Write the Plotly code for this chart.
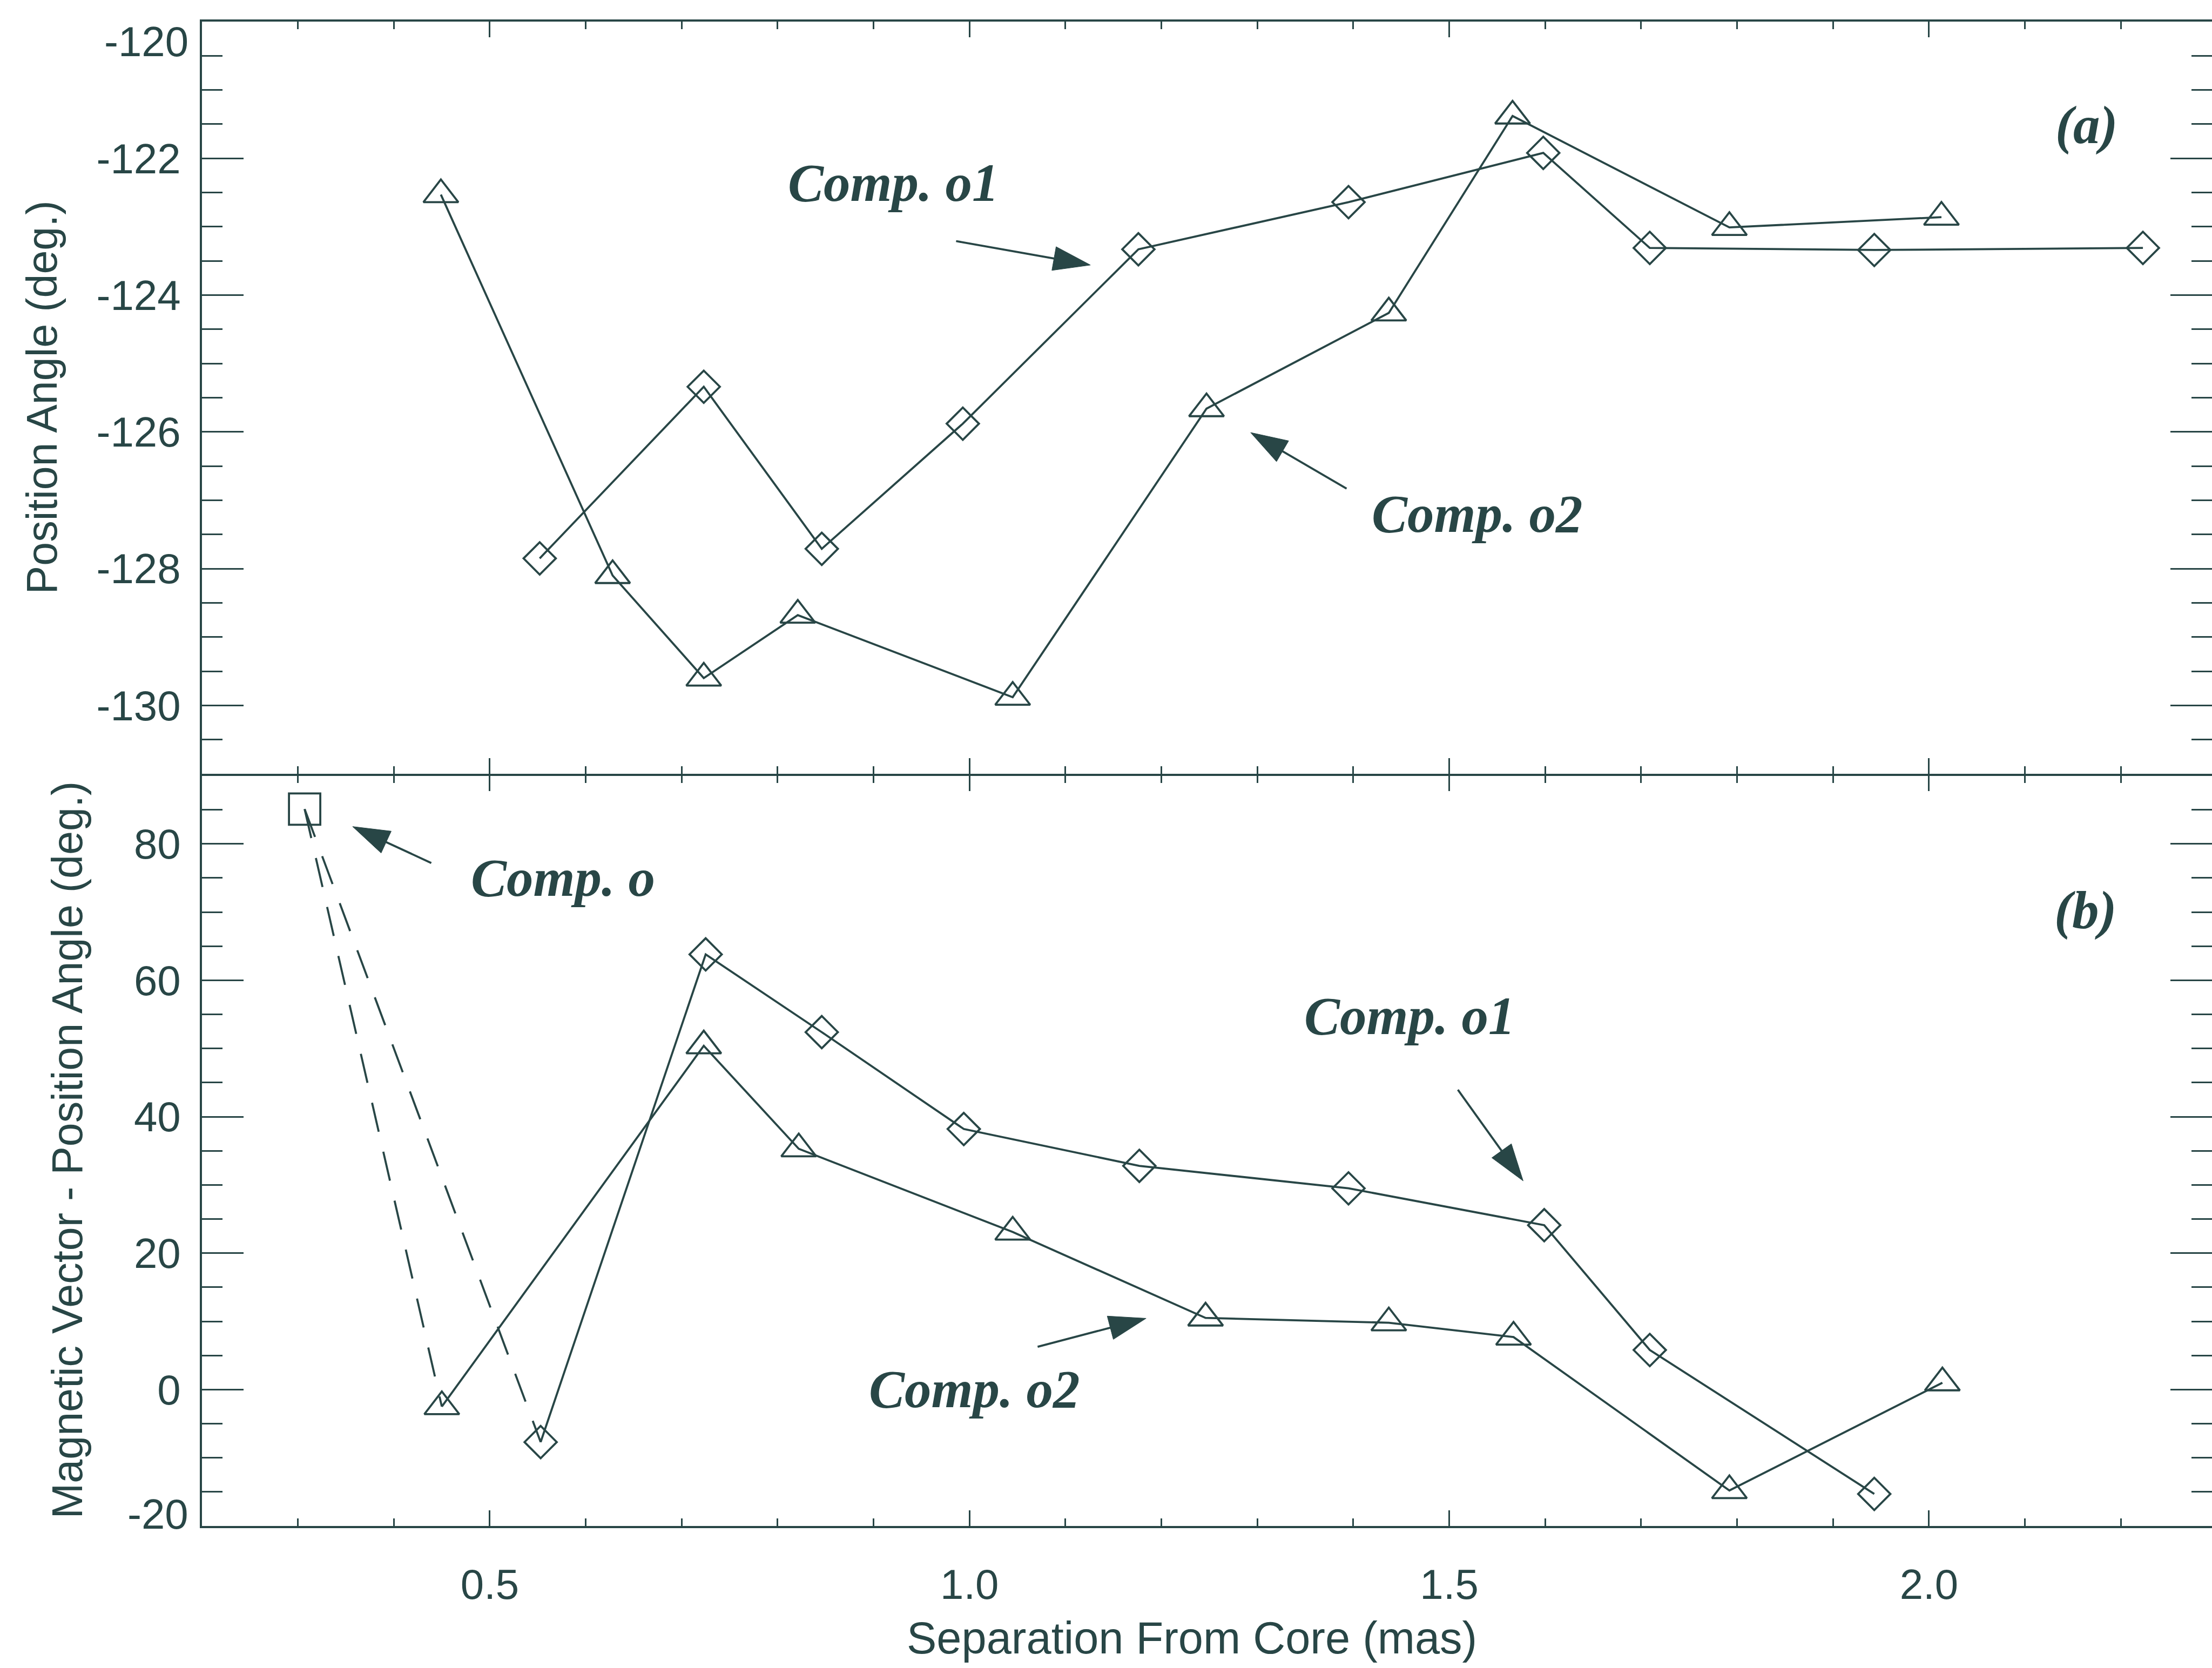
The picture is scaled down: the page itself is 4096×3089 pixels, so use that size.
import plotly.graph_objects as go
from plotly.subplots import make_subplots

INK = "#284646"
SANS = "Liberation Sans, Arial, Helvetica, sans-serif"
SERIF = "Liberation Serif, Times New Roman, serif"
LW = 3.8

# ---- panel (a): position angle versus separation ----
o1_pa_x = [0.552, 0.723, 0.846, 0.993, 1.176, 1.395, 1.598, 1.709, 1.943, 2.223]
o1_pa_y = [-127.85, -125.34, -127.71, -125.88, -123.33, -122.64, -121.92, -123.31, -123.34, -123.31]
o2_pa_x = [0.449, 0.628, 0.723, 0.821, 1.045, 1.247, 1.437, 1.566, 1.792, 2.013]
o2_pa_y = [-122.53, -128.10, -129.60, -128.68, -129.88, -125.66, -124.26, -121.38, -123.01, -122.86]

# ---- panel (b): magnetic vector minus position angle ----
o_mv_x = [0.307]
o_mv_y = [85.1]
o1_mv_x = [0.553, 0.725, 0.846, 0.994, 1.177, 1.395, 1.599, 1.709, 1.943]
o1_mv_y = [-7.7, 63.8, 52.4, 38.2, 32.8, 29.5, 24.1, 5.8, -15.3]
o2_mv_x = [0.450, 0.723, 0.822, 1.045, 1.246, 1.437, 1.567, 1.792, 2.014]
o2_mv_y = [-2.5, 50.4, 35.3, 23.1, 10.5, 9.8, 7.7, -14.8, 1.0]

# axis ranges and ticks
x_range = [0.2, 2.295]
x_ticks = [0.5, 1.0, 1.5, 2.0]
x_ticktext = ["0.5", "1.0", "1.5", "2.0"]
pa_range = [-131, -120]
pa_ticks = [-130, -128, -126, -124, -122, -120]
pa_ticktext = ["-130", "-128", "-126", "-124", "-122", ""]
mv_range = [-20, 90]
mv_ticks = [-20, 0, 20, 40, 60, 80]
mv_ticktext = ["", "0", "20", "40", "60", "80"]

# labels: (text, x, y)
labels_a = [("Comp. o1", 0.921, -122.36), ("Comp. o2", 1.529, -127.20), ("(a)", 2.164, -121.52)]
labels_b = [("Comp. o", 0.576, 75.03), ("Comp. o2", 1.005, 0.07),
            ("Comp. o1", 1.459, 54.74), ("(b)", 2.163, 70.22)]

# pointer arrows: ([tail_x, head_x], [tail_y, head_y])
arrows_a = [([0.986, 1.126], [-123.21, -123.56]),
            ([1.393, 1.293], [-126.83, -126.01])]
arrows_b = [([0.439, 0.357], [77.2, 82.54]),
            ([1.071, 1.184], [6.28, 10.44]),
            ([1.509, 1.577], [43.95, 30.6])]

fig = make_subplots(rows=2, cols=1, shared_xaxes=True, vertical_spacing=0)


def series(x, y, symbol, size, row):
    fig.add_trace(go.Scatter(
        x=x, y=y, mode="lines+markers",
        line=dict(color=INK, width=LW),
        marker=dict(symbol=symbol, size=size, color=INK, opacity=1,
                    line=dict(color=INK, width=LW)),
        showlegend=False, hoverinfo="skip", cliponaxis=False), row=row, col=1)


def arrow(xs, ys, row):
    fig.add_trace(go.Scatter(
        x=xs, y=ys, mode="lines+markers",
        line=dict(color=INK, width=LW),
        marker=dict(symbol="arrow", size=[0, 72], color=INK, opacity=1,
                    angleref="previous", line=dict(width=1, color=INK)),
        showlegend=False, hoverinfo="skip", cliponaxis=False), row=row, col=1)


# dashed links from component o to the first points of o1 and o2
for tx, ty in ((o2_mv_x[0], o2_mv_y[0]), (o1_mv_x[0], o1_mv_y[0])):
    fig.add_trace(go.Scatter(
        x=[o_mv_x[0], tx], y=[o_mv_y[0], ty], mode="lines",
        line=dict(color=INK, width=LW, dash="55px,38px"),
        showlegend=False, hoverinfo="skip"), row=2, col=1)

series(o1_pa_x, o1_pa_y, "diamond-open", 46, 1)
series(o2_pa_x, o2_pa_y, "triangle-up-open", 56, 1)
series(o1_mv_x, o1_mv_y, "diamond-open", 46, 2)
series(o2_mv_x, o2_mv_y, "triangle-up-open", 56, 2)
series(o_mv_x, o_mv_y, "square-open", 58, 2)

for xs, ys in arrows_a:
    arrow(xs, ys, 1)
for xs, ys in arrows_b:
    arrow(xs, ys, 2)

TICKFONT = dict(family=SANS, size=78, color=INK)
axis_common = dict(showline=True, linewidth=3.5, linecolor=INK, mirror="ticks",
                   ticks="inside", tickcolor=INK, tickwidth=3, showgrid=False,
                   zeroline=False, tickfont=TICKFONT)

xcommon = dict(axis_common, range=x_range, tickmode="array", tickvals=x_ticks,
               ticktext=x_ticktext, ticklen=29,
               minor=dict(dtick=0.1, tick0=0, ticklen=14, tickwidth=3,
                          ticks="inside", tickcolor=INK, showgrid=False))
fig.update_xaxes(xcommon, showticklabels=False, row=1, col=1)
fig.update_xaxes(xcommon, showticklabels=True, ticklabelstandoff=38, row=2, col=1)

# the two panels share one frame line between them
gap = 3.5 / (3089 - 40 - 263)
fig.update_yaxes(axis_common, range=pa_range, tickmode="array", tickvals=pa_ticks,
                 ticktext=pa_ticktext, ticklen=77, ticklabelstandoff=20,
                 minor=dict(dtick=0.5, tick0=0, ticklen=38, tickwidth=3,
                            ticks="inside", tickcolor=INK, showgrid=False),
                 domain=[0.5, 1.0], row=1, col=1)
fig.update_yaxes(axis_common, range=mv_range, tickmode="array", tickvals=mv_ticks,
                 ticktext=mv_ticktext, ticklen=77, ticklabelstandoff=20,
                 minor=dict(dtick=5, tick0=0, ticklen=38, tickwidth=3,
                            ticks="inside", tickcolor=INK, showgrid=False),
                 domain=[0.0, 0.5 - gap], row=2, col=1)

annotations = []
LABELFONT = dict(family=SERIF, size=99, color=INK)
for text, x, y in labels_a:
    annotations.append(dict(text="<b><i>%s</i></b>" % text, x=x, y=y, xref="x", yref="y",
                            showarrow=False, font=LABELFONT,
                            xanchor="center", yanchor="middle"))
for text, x, y in labels_b:
    annotations.append(dict(text="<b><i>%s</i></b>" % text, x=x, y=y, xref="x2", yref="y2",
                            showarrow=False, font=LABELFONT,
                            xanchor="center", yanchor="middle"))

# end labels of the value axes sit slightly inside the frame
annotations.append(dict(text="-120", x=0, xref="paper", y=-120, yref="y",
                        xanchor="right", yanchor="middle", xshift=-23, yshift=-37,
                        showarrow=False, font=TICKFONT))
annotations.append(dict(text="-20", x=0, xref="paper", y=-20, yref="y2",
                        xanchor="right", yanchor="middle", xshift=-23, yshift=22,
                        showarrow=False, font=TICKFONT))

# axis titles
TITLEFONT = dict(family=SANS, size=79, color=INK)
annotations.append(dict(text="Position Angle (deg.)", x=0, xref="paper", y=0.75, yref="paper",
                        textangle=-90, xanchor="center", yanchor="middle", xshift=-297,
                        showarrow=False, font=TITLEFONT))
annotations.append(dict(text="Magnetic Vector - Position Angle (deg.)", x=0, xref="paper",
                        y=0.25, yref="paper", textangle=-90, xanchor="center",
                        yanchor="middle", xshift=-250, showarrow=False, font=TITLEFONT))
annotations.append(dict(text="Separation From Core (mas)", x=0.5, xref="paper", y=0,
                        yref="paper", xanchor="center", yanchor="middle", yshift=-207,
                        xshift=-28, showarrow=False, font=dict(TITLEFONT, size=83)))

fig.update_layout(
    width=4096, height=3089,
    margin=dict(l=374, r=0, t=40, b=263),
    paper_bgcolor="white", plot_bgcolor="white",
    template="none",
    annotations=annotations,
    showlegend=False,
)

fig.write_html("out.html")
